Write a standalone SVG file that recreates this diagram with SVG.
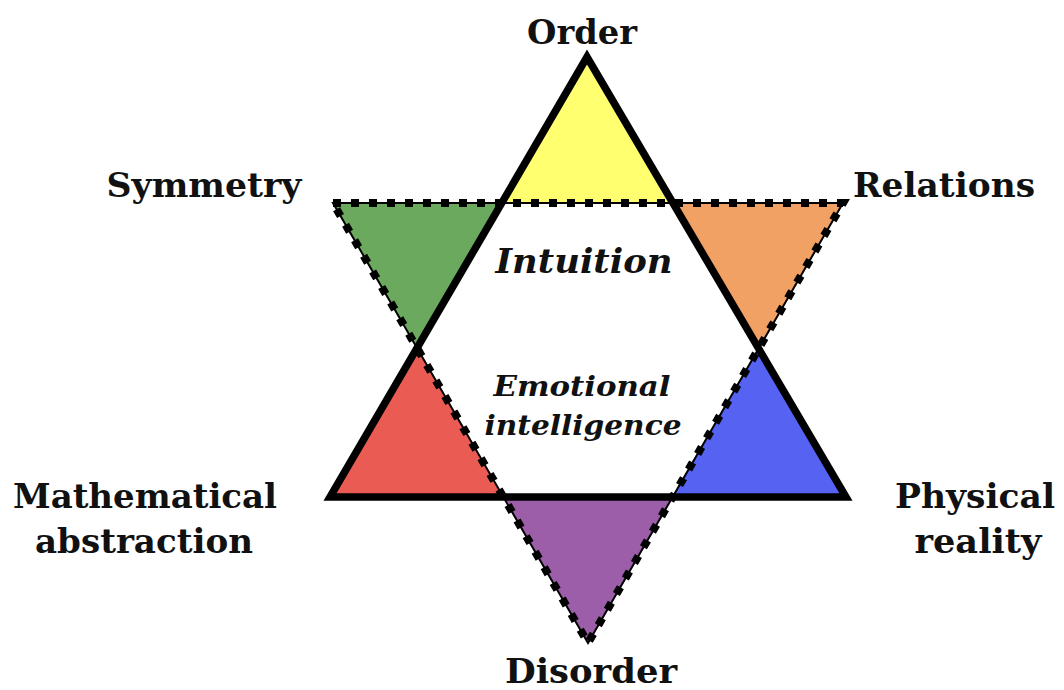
<svg xmlns="http://www.w3.org/2000/svg" width="1064" height="690" viewBox="0 0 1064 690">
<style>
.lbl{font-family:"DejaVu Serif","Liberation Serif",serif;font-weight:bold;font-size:34px;fill:#111;text-anchor:middle}
.inner{font-family:"DejaVu Serif","Liberation Serif",serif;font-weight:bold;font-style:italic;fill:#111;text-anchor:middle}
.solid{fill:none;stroke:#000;stroke-width:7.5;stroke-linejoin:miter}
.thin{fill:none;stroke:#000;stroke-width:2}
.dots{fill:none;stroke:#000;stroke-width:8;stroke-dasharray:8 10}
</style>
<rect width="1064" height="690" fill="#fff"/>
<g id="regions">
<polygon id="order-tip" points="587,57 502,203 672,203" fill="#FFFF70"/>
<polygon id="symmetry-tip" points="333,203 502,203 417,348" fill="#6BAA5E"/>
<polygon id="relations-tip" points="843,203 672,203 759,348" fill="#F1A163"/>
<polygon id="math-tip" points="330,497 417,348 503,497" fill="#EA5B54"/>
<polygon id="physical-tip" points="846,497 759,348 673,497" fill="#5562F2"/>
<polygon id="disorder-tip" points="588,643 503,497 673,497" fill="#9C5EA9"/>
</g>
<g id="connectors">
<polygon class="thin" points="333,203 843,203 588,643"/>
<polygon class="dots" points="333,203 843,203 588,643"/>
<polygon class="solid" points="587,57 846,497 330,497"/>
</g>
<g id="labels">
<text id="order" class="lbl" x="582" y="44" textLength="110" lengthAdjust="spacingAndGlyphs">Order</text>
<text id="symmetry" class="lbl" x="204" y="197" textLength="195" lengthAdjust="spacingAndGlyphs">Symmetry</text>
<text id="relations" class="lbl" x="944" y="197" textLength="182" lengthAdjust="spacingAndGlyphs">Relations</text>
<text id="math1" class="lbl" x="145" y="508" textLength="264" lengthAdjust="spacingAndGlyphs">Mathematical</text>
<text id="math2" class="lbl" x="144" y="553" textLength="218" lengthAdjust="spacingAndGlyphs">abstraction</text>
<text id="phys1" class="lbl" x="975" y="508" textLength="160" lengthAdjust="spacingAndGlyphs">Physical</text>
<text id="phys2" class="lbl" x="978" y="553" textLength="127" lengthAdjust="spacingAndGlyphs">reality</text>
<text id="disorder" class="lbl" x="591" y="683" textLength="172" lengthAdjust="spacingAndGlyphs">Disorder</text>
<text id="intuition" class="inner" x="584" y="273" font-size="34" textLength="177" lengthAdjust="spacingAndGlyphs">Intuition</text>
<text id="emo1" class="inner" x="582" y="396" font-size="28" textLength="177" lengthAdjust="spacingAndGlyphs">Emotional</text>
<text id="emo2" class="inner" x="583" y="435" font-size="28" textLength="197" lengthAdjust="spacingAndGlyphs">intelligence</text>
</g>
</svg>
